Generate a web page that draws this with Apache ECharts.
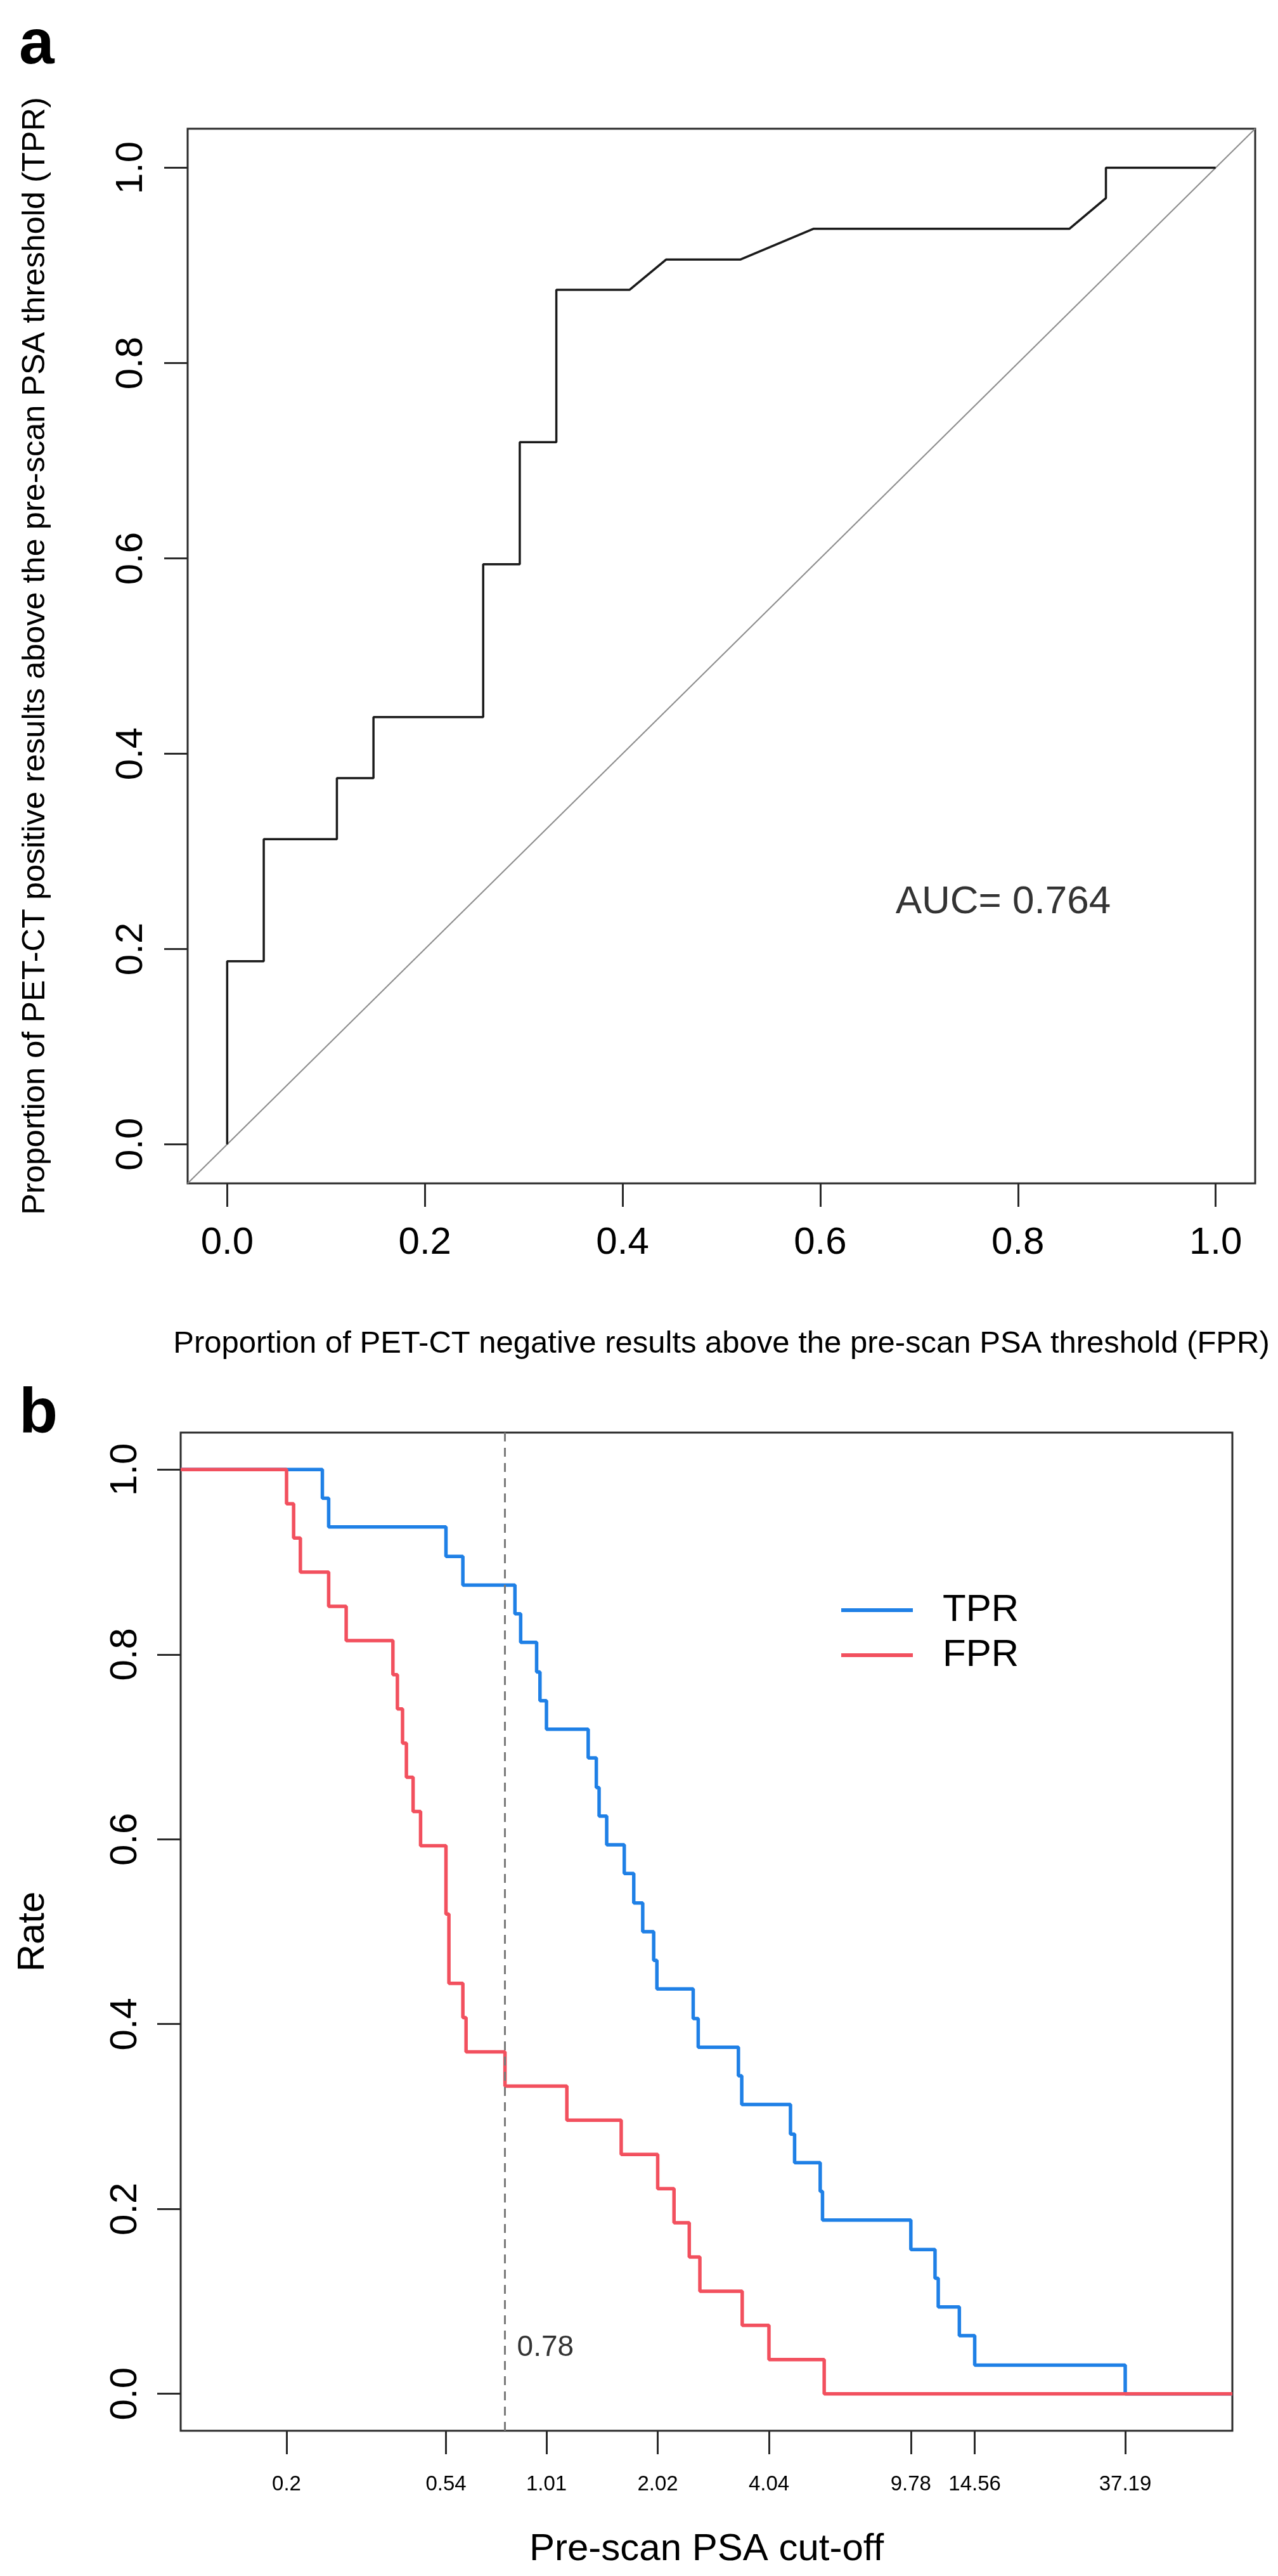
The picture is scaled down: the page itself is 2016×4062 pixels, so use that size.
<!DOCTYPE html>
<html>
<head>
<meta charset="utf-8">
<script src="https://cdn.jsdelivr.net/npm/echarts@6/dist/echarts.min.js"></script>
<style>
html,body{margin:0;padding:0;background:#ffffff;}
#c{width:2016px;height:4062px;}
</style>
</head>
<body>
<div id="c"></div>
<script>
// ---------- Panel a: ROC curve ----------
const rocFpr = [0, 0, 0.037, 0.037, 0.111, 0.111, 0.148, 0.148, 0.259, 0.259, 0.296, 0.296, 0.333, 0.333, 0.407, 0.444, 0.519, 0.593, 0.852, 0.889, 0.889, 1.0];
const rocTpr = [0, 0.1875, 0.1875, 0.3125, 0.3125, 0.375, 0.375, 0.4375, 0.4375, 0.594, 0.594, 0.719, 0.719, 0.875, 0.875, 0.906, 0.906, 0.9375, 0.9375, 0.969, 1.0, 1.0];
const rocTicks = [0, 0.2, 0.4, 0.6, 0.8, 1.0];
const aucText = 'AUC= 0.764';
const aucPos = [0.785, 0.248];
const titleAx = 'Proportion of PET-CT negative results above the pre-scan PSA threshold (FPR)';
const titleAy = 'Proportion of PET-CT positive results above the pre-scan PSA threshold (TPR)';

// ---------- Panel b: TPR / FPR vs PSA cut-off ----------
const tprCut  = [0.1034, 0.25, 0.26, 0.54, 0.6, 0.83, 0.86, 0.95, 0.97, 1.01, 1.31, 1.378, 1.402, 1.47, 1.64, 1.74, 1.84, 1.97, 2.01, 2.52, 2.6, 3.34, 3.41, 4.62, 4.74, 5.56, 5.64, 9.78, 11.37, 11.6, 13.23, 14.56, 37.19, 72.5];
const tprRate = [1, 0.969, 0.938, 0.906, 0.875, 0.844, 0.813, 0.781, 0.75, 0.719, 0.688, 0.656, 0.625, 0.594, 0.563, 0.531, 0.5, 0.469, 0.438, 0.406, 0.375, 0.344, 0.313, 0.281, 0.25, 0.219, 0.188, 0.156, 0.125, 0.094, 0.063, 0.031, 0, 0];
const fprCut  = [0.1034, 0.2, 0.209, 0.218, 0.26, 0.29, 0.388, 0.399, 0.412, 0.422, 0.44, 0.461, 0.54, 0.55, 0.6, 0.612, 0.78, 1.147, 1.609, 2.02, 2.236, 2.459, 2.627, 3.42, 4.04, 5.7, 72.5];
const fprRate = [1, 0.963, 0.926, 0.889, 0.852, 0.815, 0.778, 0.741, 0.704, 0.667, 0.63, 0.593, 0.519, 0.444, 0.407, 0.37, 0.333, 0.296, 0.259, 0.222, 0.185, 0.148, 0.111, 0.074, 0.037, 0, 0];
const psaTicks = [0.2, 0.54, 1.01, 2.02, 4.04, 9.78, 14.56, 37.19];
const rateTicks = [0, 0.2, 0.4, 0.6, 0.8, 1.0];
const cutoff = 0.78;
const cutoffLabelY = 0.05;
const seriesNames = ['TPR', 'FPR'];
const titleBx = 'Pre-scan PSA cut-off';
const titleBy = 'Rate';

const FONT = '"Liberation Sans", Arial, Helvetica, sans-serif';
const INK = '#000000';
const BOX = '#2a2a2a';
const BLUE = '#1f80e6';
const RED = '#f2505e';

function pairs(xs, ys) { return xs.map((x, i) => [x, ys[i]]); }
function fmt1(v) { return Number(v).toFixed(1); }

function valAxis(grid, ticks, labelSize, margin, rotate, name, nameSize, nameGap) {
  return {
    gridIndex: grid,
    type: 'value',
    min: -0.04,
    max: 1.04,
    axisLine: { show: false, onZero: false },
    splitLine: { show: false },
    axisTick: { show: true, inside: false, length: 37, customValues: ticks, lineStyle: { color: BOX, width: 3 } },
    axisLabel: { show: true, customValues: ticks, formatter: fmt1, fontSize: labelSize, margin: margin, rotate: rotate, color: INK, fontFamily: FONT },
    name: name,
    nameLocation: 'middle',
    nameGap: nameGap,
    nameTextStyle: { fontSize: nameSize, color: INK, fontFamily: FONT }
  };
}

const chart = echarts.init(document.getElementById('c'), null, { renderer: 'canvas', width: 2016, height: 4062 });

const option = {
  animation: false,
  backgroundColor: '#ffffff',
  grid: [
    { left: 296, top: 203, width: 1684, height: 1663, show: true, borderColor: BOX, borderWidth: 3, backgroundColor: 'transparent', containLabel: false, outerBoundsMode: 'none' },
    { left: 285, top: 2259, width: 1659, height: 1574, show: true, borderColor: BOX, borderWidth: 3, backgroundColor: 'transparent', containLabel: false, outerBoundsMode: 'none' }
  ],
  xAxis: [
    valAxis(0, rocTicks, 60, 64, 0, titleAx, 49, 229),
    {
      gridIndex: 1,
      type: 'log',
      logBase: 10,
      min: 0.1034,
      max: 72.5,
      axisLine: { show: false, onZero: false },
      splitLine: { show: false },
      minorTick: { show: false },
      axisTick: { show: true, inside: false, length: 37, customValues: psaTicks, lineStyle: { color: BOX, width: 3 } },
      axisLabel: { show: true, customValues: psaTicks, formatter: v => String(+Number(v).toPrecision(4)), fontSize: 33, margin: 68, color: INK, fontFamily: FONT },
      name: titleBx,
      nameLocation: 'middle',
      nameGap: 157,
      nameTextStyle: { fontSize: 60, color: INK, fontFamily: FONT }
    }
  ],
  yAxis: [
    valAxis(0, rocTicks, 60, 59, 90, titleAy, 50.5, 214),
    valAxis(1, rateTicks, 60, 57, 90, titleBy, 60, 203)
  ],
  legend: {
    data: seriesNames,
    orient: 'vertical',
    left: 1322,
    top: 2504,
    icon: 'rect',
    itemWidth: 113,
    itemHeight: 6,
    itemGap: 11,
    selectedMode: false,
    textStyle: { fontSize: 60, color: INK, fontFamily: FONT, padding: [0, 0, 0, 42] }
  },
  graphic: [
    { type: 'text', left: 30, top: 22, style: { text: 'a', font: 'bold 100px ' + FONT, fill: INK } },
    { type: 'text', left: 30, top: 2181, style: { text: 'b', font: 'bold 100px ' + FONT, fill: INK } }
  ],
  series: [
    {
      name: 'diag', type: 'line', xAxisIndex: 0, yAxisIndex: 0, silent: true, symbol: 'none',
      data: [[-0.04, -0.04], [1.04, 1.04]],
      lineStyle: { color: '#8c8c8c', width: 2 }
    },
    {
      name: 'ROC', type: 'line', xAxisIndex: 0, yAxisIndex: 0, silent: true, symbol: 'none',
      data: pairs(rocFpr, rocTpr),
      lineStyle: { color: '#1a1a1a', width: 3.5 }
    },
    {
      name: 'auc', type: 'scatter', xAxisIndex: 0, yAxisIndex: 0, silent: true, symbolSize: 0,
      data: [aucPos],
      label: { show: true, position: 'inside', formatter: aucText, fontSize: 62, color: INK, fontFamily: FONT }
    },
    {
      name: seriesNames[0], type: 'line', xAxisIndex: 1, yAxisIndex: 1, silent: true, symbol: 'none', step: 'end',
      data: pairs(tprCut, tprRate),
      color: BLUE,
      itemStyle: { color: BLUE },
      lineStyle: { color: BLUE, width: 5.5 },
      markLine: {
        silent: true, symbol: ['none', 'none'], label: { show: false },
        lineStyle: { color: '#7a7a7a', width: 3, type: [14, 10] },
        data: [{ xAxis: cutoff }]
      }
    },
    {
      name: seriesNames[1], type: 'line', xAxisIndex: 1, yAxisIndex: 1, silent: true, symbol: 'none', step: 'end',
      data: pairs(fprCut, fprRate),
      color: RED,
      itemStyle: { color: RED },
      lineStyle: { color: RED, width: 5.5 }
    },
    {
      name: 'cutlabel', type: 'scatter', xAxisIndex: 1, yAxisIndex: 1, silent: true, symbolSize: 0,
      data: [[cutoff, cutoffLabelY]],
      label: { show: true, position: 'right', distance: 19, formatter: String(cutoff), fontSize: 46, color: INK, fontFamily: FONT }
    }
  ]
};
chart.setOption(option);
</script>
</body>
</html>
